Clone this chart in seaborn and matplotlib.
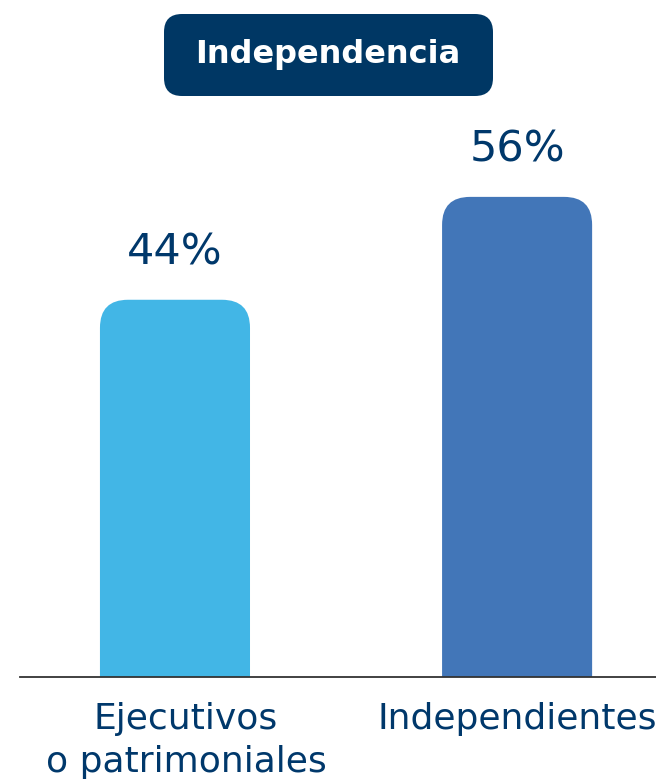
import pandas as pd
import seaborn as sns
from matplotlib import pyplot as plt
from matplotlib.patches import FancyBboxPatch
from matplotlib.transforms import ScaledTranslation

sns.set_style('white')
plt.rcParams['font.family'] = ['DejaVu Sans']

# Data
categories = ['Ejecutivos\no patrimoniales', 'Independientes']
values = [44, 56]
value_labels = ['44%', '56%']
bar_colors = ['#42B6E6', '#4276B8']
title = 'Independencia'

navy = '#00386B'

df = pd.DataFrame({'tipo': categories, 'pct': values})

fig = plt.figure(figsize=(6.56, 7.79), dpi=100)
ax = fig.add_axes([20 / 656, 102 / 779, 636 / 656, 577 / 779])

sns.barplot(data=df, x='tipo', y='pct', hue='tipo', palette=bar_colors,
            saturation=1, width=150 / 342, legend=False, ax=ax)
ax.set_xlim(-0.453, 1.406)
ax.set_ylim(0, 67.3)

# value labels on top of the bars
for cont, lab in zip(ax.containers, value_labels):
    ax.bar_label(cont, labels=[lab], padding=19, fontsize=31, color=navy)

# swap square bars for ones with rounded tops
px_x = 636 / (1.406 + 0.453)   # pixels per x unit
px_y = 577 / 67.3              # pixels per y unit
r = 28
for p in list(ax.patches):
    x, w, h = p.get_x(), p.get_width(), p.get_height()
    fc = p.get_facecolor()
    p.remove()
    rb = FancyBboxPatch((x, -5), w, h + 5,
                        boxstyle=f'round,pad=0,rounding_size={r / px_x}',
                        mutation_aspect=px_x / px_y,
                        fc=fc, ec='none', clip_on=True)
    ax.add_patch(rb)

ax.set_xlabel('')
ax.set_ylabel('')
ax.set_yticks([])
ax.tick_params(axis='x', length=0, pad=18, labelsize=26, labelcolor=navy)
labels = ax.get_xticklabels()
for t in labels:
    t.set_linespacing(1.35)
# first label sits a bit right of its bar in the original
labels[0].set_transform(labels[0].get_transform() +
                        ScaledTranslation(0.11, 0, fig.dpi_scale_trans))
for s in ['top', 'left', 'right']:
    ax.spines[s].set_visible(False)
ax.spines['bottom'].set_color('#333333')
ax.spines['bottom'].set_linewidth(1.3)
ax.spines['bottom'].set_zorder(5)

# title box
box = FancyBboxPatch((164 / 656, 683 / 779), 329 / 656, 82 / 779,
                     boxstyle=f'round,pad=0,rounding_size={18 / 656}',
                     mutation_aspect=656 / 779,
                     transform=fig.transFigure, fc='#003764', ec='none')
fig.patches.append(box)
fig.text(0.5, 1 - 55 / 779, title, ha='center', va='center',
         fontsize=23, fontweight='bold', color='white')

fig.savefig('out.png', dpi=100)
